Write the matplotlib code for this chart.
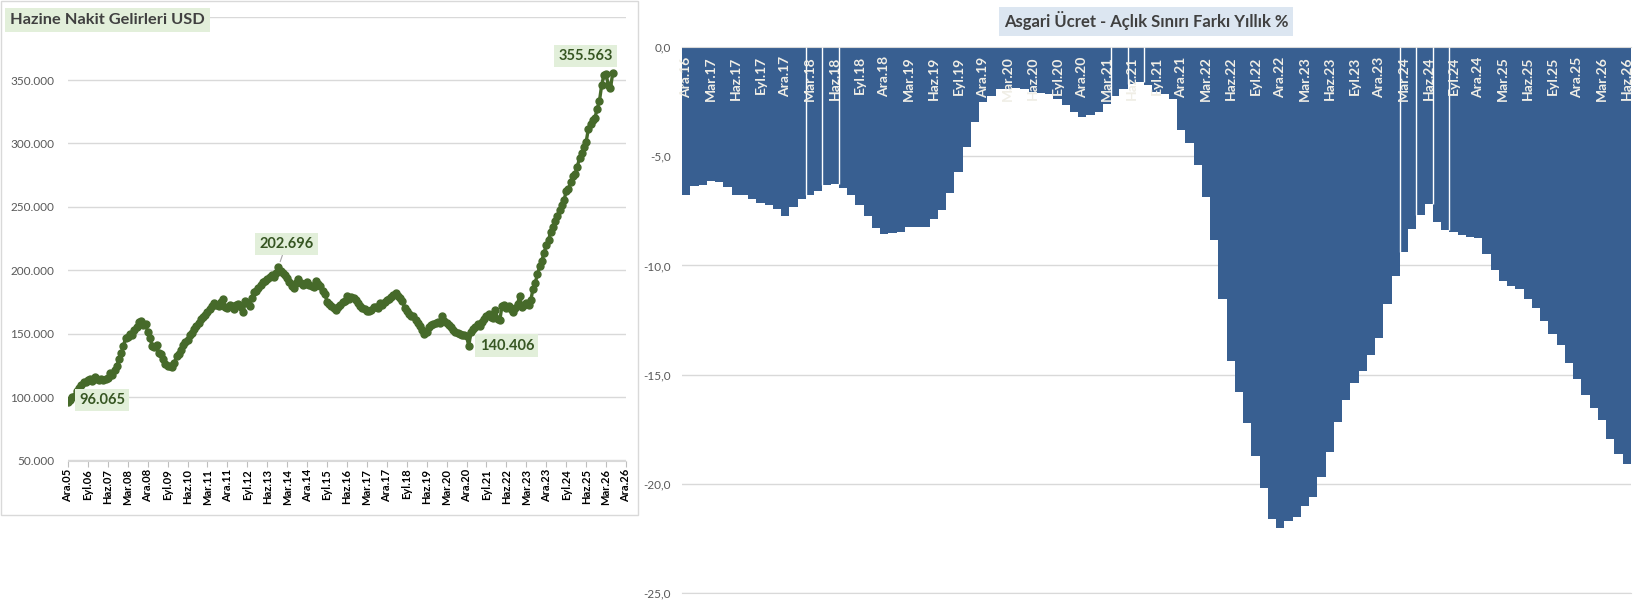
import matplotlib
matplotlib.use("Agg")
import matplotlib.pyplot as plt
from matplotlib.patches import Rectangle
from matplotlib.ticker import FuncFormatter

plt.rcParams['font.family'] = ['Lato', 'DejaVu Sans']

# --------------------------
# Data: Hazine Nakit Gelirleri USD (monthly, Ara.05 -> )
# --------------------------
gelir = [
    96065, 97500, 99800, 101200, 104600, 107300, 109800, 112100, 111600, 113400, 114200, 113000,
    115700, 113900, 113200, 114400, 113600, 114100, 115300, 119200, 117600, 121500, 124300, 129800,
    134600, 140200, 146500, 147300, 150100, 149200, 152800, 155400, 159300, 160100, 156800, 157500,
    151400, 147000, 140300, 139200, 140800, 135100, 133600, 129700, 125800, 124200, 124900, 123700,
    126500, 132100, 134300, 137400, 141000, 143600, 145200, 149100, 150700, 153500, 156200, 158400,
    161300, 162800, 164500, 166900, 169200, 171600, 174300, 172800, 171500, 175000, 177600, 171200,
    170400, 172700, 171900, 169800, 172500, 173400, 170900, 166800, 176100, 173900, 171500, 178200,
    182600, 184000, 186300, 188500, 190400, 191800, 193200, 194600, 196500, 195100, 197900, 202696,
    199500, 198100, 196400, 193800, 191000, 187900, 186400, 189700, 193100, 190000, 188600, 189300,
    190500, 188200, 187800, 186900, 191700, 189400, 187600, 183800, 181500, 175200, 173600, 171900,
    170200, 168900, 171000, 172400, 174800, 175500, 179600, 177300, 179100, 177800, 176400, 174000,
    172100, 170500, 169300, 168200, 167900, 168500, 170700, 171200, 170100, 174600, 172800, 174900,
    176300, 177500, 179200, 180800, 181900, 179600, 178400, 176000, 170400, 167800, 165500, 164200,
    163900, 160700, 158300, 155900, 153200, 149800, 151500, 155100, 156700, 157900, 158600, 159100,
    158400, 163700, 160300, 158500, 157200, 155600, 153000, 151400, 150600, 149900, 149200, 148700,
    147800, 140406, 151700, 153900, 155200, 157800, 156400, 158900, 161200, 164300, 165700, 163100,
    162000, 168900, 161400, 160600, 171800, 172300, 170500, 171600, 169400, 167200, 170300, 173600,
    179700, 171400, 172500, 174100, 173000, 176400, 185300, 190200, 196800, 203100, 207500, 213900,
    219600, 223800, 230400, 233900, 238700, 242600, 247900, 251300, 255200, 262400, 263800, 269500,
    274600, 276100, 281700, 288400, 292600, 297100, 301300, 311500, 315200, 318700, 320400, 327600,
    333500, 345800, 353900, 354700, 346200, 343500, 355563,
]

sol_etiketler = ["Ara.05", "Eyl.06", "Haz.07", "Mar.08", "Ara.08", "Eyl.09", "Haz.10", "Mar.11",
                 "Ara.11", "Eyl.12", "Haz.13", "Mar.14", "Ara.14", "Eyl.15", "Haz.16", "Mar.17",
                 "Ara.17", "Eyl.18", "Haz.19", "Mar.20", "Ara.20", "Eyl.21", "Haz.22", "Mar.23",
                 "Ara.23", "Eyl.24", "Haz.25", "Mar.26", "Ara.26"]

# --------------------------
# Data: Asgari Ucret - Aclik Siniri Farki Yillik % (monthly, Ara.16 -> Haz.26)
# --------------------------
fark = [
    -6.79,
    -6.36, -6.29, -6.13, -6.18, -6.41, -6.75, -6.76, -6.95, -7.15, -7.25, -7.41, -7.71,
    -7.33, -6.95, -6.79, -6.60, -6.29, -6.26, -6.46, -6.79, -7.22, -7.71, -8.28, -8.56,
    -8.53, -8.48, -8.25, -8.25, -8.25, -7.87, -7.45, -6.69, -5.72, -4.57, -3.42, -2.50,
    -2.22, -1.91, -1.89, -1.86, -1.93, -2.04, -2.09, -2.15, -2.35, -2.65, -2.96, -3.19,
    -3.11, -2.96, -2.58, -2.24, -1.89, -1.66, -1.58, -1.73, -2.04, -2.15, -2.35, -3.80,
    -4.39, -5.40, -6.87, -8.83, -11.52, -14.36, -15.78, -17.22, -18.73, -20.18, -21.64, -22.02,
    -21.69, -21.53, -21.03, -20.61, -19.69, -18.57, -17.19, -16.17, -15.40, -14.82, -14.08, -13.31,
    -11.78, -10.50, -9.40, -8.35, -7.70, -7.20, -8.01, -8.39, -8.47, -8.62, -8.70, -8.73,
    -9.49, -10.20, -10.69, -10.92, -11.07, -11.53, -11.94, -12.53, -13.14, -13.63, -14.49, -15.21,
    -15.93, -16.54, -17.09, -17.96, -18.62, -19.11,
]

sag_etiketler = ["Ara.16", "Mar.17", "Haz.17", "Eyl.17", "Ara.17", "Mar.18", "Haz.18", "Eyl.18",
                 "Ara.18", "Mar.19", "Haz.19", "Eyl.19", "Ara.19", "Mar.20", "Haz.20", "Eyl.20",
                 "Ara.20", "Mar.21", "Haz.21", "Eyl.21", "Ara.21", "Mar.22", "Haz.22", "Eyl.22",
                 "Ara.22", "Mar.23", "Haz.23", "Eyl.23", "Ara.23", "Mar.24", "Haz.24", "Eyl.24",
                 "Ara.24", "Mar.25", "Haz.25", "Eyl.25", "Ara.25", "Mar.26", "Haz.26"]

# bars where the white seam shows in the original
beyaz_cizgi = [15, 17, 19, 52, 54, 56, 87, 89, 91, 93]

YESIL = '#466A2A'
MAVI = '#385F91'
GRID = '#D9D9D9'
W, H = 1648, 605

fig = plt.figure(figsize=(W / 100, H / 100), dpi=100)

# --------------------------
# Left chart
# --------------------------
ax1 = fig.add_axes([68 / W, 1 - 460.5 / H, (626 - 68) / W, (460.5 - 16.7) / H])
ax1.plot(range(len(gelir)), gelir, color=YESIL, lw=2.4, marker='o', ms=5, zorder=3)
ax1.set_xlim(0, 252)
ax1.set_ylim(50000, 400000)
ax1.set_yticks(range(50000, 400001, 50000))
ax1.yaxis.set_major_formatter(FuncFormatter(
    lambda v, p: '' if v >= 400000 else f"{v:,.0f}".replace(',', '.')))
ax1.grid(axis='y', color=GRID, lw=1)
ax1.set_axisbelow(True)
for s in ['left', 'right', 'top']:
    ax1.spines[s].set_visible(False)
ax1.spines['bottom'].set_color(GRID)
ax1.set_xticks(range(0, 253, 9))
ax1.set_xticklabels(sol_etiketler, rotation=90, fontsize=8, fontweight='bold')
ax1.tick_params(axis='x', length=4, color='#BFBFBF', pad=2)
ax1.tick_params(axis='y', length=0, pad=10, labelsize=8.5, labelcolor='#595959')


def etiket(i, dx, dy, leader=False):
    arrow = dict(arrowstyle='-', color='#A6A6A6', lw=0.8, shrinkA=0, shrinkB=4) if leader else None
    ax1.annotate(f"{gelir[i]:,}".replace(',', '.'), xy=(i, gelir[i]), xytext=(dx, dy),
                 textcoords='offset pixels', ha='center', va='center', fontsize=10.5,
                 fontweight='bold', color='#375623', zorder=5, arrowprops=arrow,
                 bbox=dict(boxstyle='square,pad=0.3', fc='#E2EFDA', ec='none'))


i_tepe = gelir.index(max(gelir[:150]))
i_dip = gelir.index(min(gelir[150:220]))
etiket(0, 34, 2)
etiket(i_tepe, 8, 23, leader=True)
etiket(i_dip, 38, 0)
etiket(len(gelir) - 1, -27, 17)

fig.text(10 / W, 1 - 20 / H, 'Hazine Nakit Gelirleri USD', ha='left', va='center',
         fontsize=11.8, fontweight='bold', color='#404040',
         bbox=dict(boxstyle='square,pad=0.33', fc='#E2EFDA', ec='none'))
fig.add_artist(Rectangle((0.5 / W, 1 - 515 / H), 637 / W, 515 / H - 0.5 / H,
                         transform=fig.transFigure, fill=False, ec=GRID, lw=1))

# --------------------------
# Right chart
# --------------------------
ax2 = fig.add_axes([682 / W, 1 - 592.8 / H, (1631 - 682) / W, (592.8 - 47.3) / H])
x2 = list(range(len(fark)))
ax2.bar(x2, fark, width=1.0, color=MAVI, edgecolor='none', zorder=2)
ax2.vlines([i - 0.5 for i in beyaz_cizgi], [max(fark[i - 1], fark[i]) for i in beyaz_cizgi], 0,
           colors='white', lw=1, zorder=3)
ax2.set_xlim(-0.5, len(fark) - 0.5)
ax2.set_ylim(-25, 0)
ax2.set_yticks(range(-25, 1, 5))
ax2.yaxis.set_major_formatter(FuncFormatter(lambda v, p: f"{v:.1f}".replace('.', ',')))
ax2.grid(axis='y', color=GRID, lw=1)
ax2.set_axisbelow(True)
for s in ['left', 'right']:
    ax2.spines[s].set_visible(False)
ax2.spines['top'].set_color(GRID)
ax2.spines['bottom'].set_color(GRID)
ax2.xaxis.tick_top()
ax2.set_xticks([i - 0.5 for i in range(0, len(fark), 3)])
ax2.tick_params(axis='x', direction='in', length=4, color='#C9D3E0', labeltop=False,
                labelbottom=False)
ax2.tick_params(axis='y', length=0, pad=8, labelsize=8.5, labelcolor='#595959')

for k, lbl in enumerate(sag_etiketler):
    ax2.annotate(lbl, xy=(3 * k, 0), xytext=(0, -6.5), textcoords='offset points',
                 rotation=90, ha='center', va='top', fontsize=10, fontweight='bold',
                 color='#F0EEE6', zorder=4)

fig.text(1146 / W, 1 - 21 / H, 'Asgari Ücret - Açlık Sınırı Farkı Yıllık %', ha='center',
         va='center', fontsize=12, fontweight='bold', color='#404040',
         bbox=dict(boxstyle='square,pad=0.3', fc='#DCE6F1', ec='none'))

fig.savefig('out.png', dpi=100)
